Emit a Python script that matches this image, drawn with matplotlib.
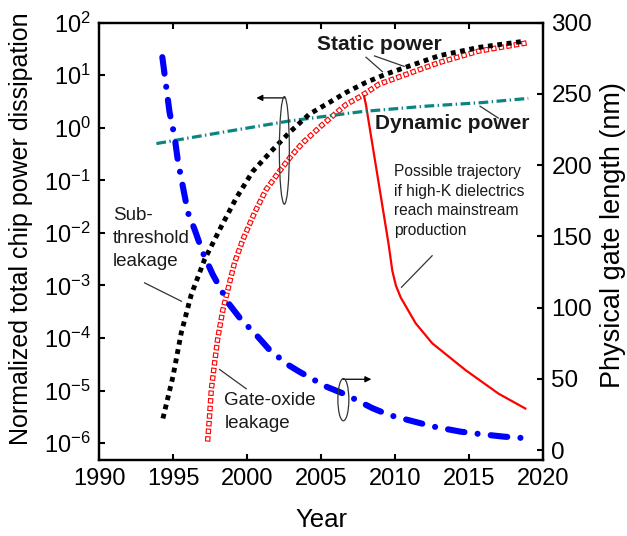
import numpy as np
import matplotlib
matplotlib.use("Agg")
import matplotlib.pyplot as plt
from matplotlib.patches import Ellipse
from matplotlib.ticker import NullLocator

plt.rcParams['font.family'] = ['Liberation Sans', 'DejaVu Sans']
plt.rcParams['lines.scale_dashes'] = False

# sub-threshold leakage (static power), log10 of normalized power
sub_years = [1994.3, 1994.98, 1995.54, 1996.22, 1997.11, 1998.24, 1999.25, 2000.37,
             2001.61, 2002.85, 2004.2, 2005.54, 2006.67, 2008.0, 2009.37, 2010.7,
             2012.96, 2015.66, 2018.8]
sub_log = [-5.53, -4.73, -3.90, -3.17, -2.51, -1.88, -1.34, -0.83,
           -0.45, -0.09, 0.26, 0.48, 0.67, 0.86, 1.02, 1.15,
           1.37, 1.53, 1.65]

# gate-oxide leakage
gox_years = [1997.32, 1997.45, 1997.57, 1997.79, 1998.01, 1998.35, 1998.68, 1999.14,
             1999.7, 2000.49, 2001.27, 2002.17, 2002.96, 2003.74, 2005.09, 2006.67,
             2007.68, 2008.92, 2010.49, 2012.96, 2015.66, 2019.0]
gox_log = [-5.97, -5.5, -4.99, -4.48, -4.0, -3.47, -3.09, -2.57,
           -2.13, -1.62, -1.18, -0.83, -0.54, -0.29, 0.06, 0.44,
           0.6, 0.83, 0.99, 1.24, 1.46, 1.62]

# high-K trajectory
hik_years = [2007.9, 2008.02, 2009.55, 2009.81, 2010.05, 2010.38, 2011.39, 2012.51,
             2014.76, 2017.0, 2018.8]
hik_log = [0.6, 0.45, -2.2, -2.72, -3.0, -3.23, -3.72, -4.1, -4.61, -5.06, -5.34]

# dynamic power
dyn_years = [1993.86, 1998.0, 2002.85, 2007.8, 2012.0, 2015.9, 2019.0]
dyn_log = [-0.30, -0.10, 0.13, 0.31, 0.41, 0.48, 0.56]

# physical gate length (nm), right axis
gate_years = [1994.26, 1994.75, 1995.09, 1995.31, 1995.99, 1996.44, 1997.0, 1997.67,
              1998.35, 1998.8, 1999.59, 2000.49, 2001.5, 2002.73, 2003.52, 2005.32,
              2006.67, 2008.46, 2009.59, 2011.27, 2012.62, 2014.42, 2015.66, 2017.34, 2018.8]
gate_nm = [275.8, 237, 220, 203, 166.7, 154.9, 138.5, 123.2,
           110.3, 102.1, 91.5, 82.2, 70.4, 60, 55, 44.6,
           38.9, 29.4, 24.6, 20, 16.4, 12.9, 11.3, 9.4, 8.3]

x_ticks = [1990, 1995, 2000, 2005, 2010, 2015, 2020]
right_ticks = [0, 50, 100, 150, 200, 250, 300]

fig = plt.figure(figsize=(6.27, 5.36), dpi=100)
ax = fig.add_axes([0.1584, 0.1418, 0.7077, 0.8159])
ax2 = ax.twinx()

teal = '#0b8582'

# gate-oxide: hollow red squares from a dashed red line + white dashed core
gx = np.array(gox_years)
gy = 10.0 ** np.array(gox_log)
ax.plot(gx, gy, color='red', lw=3.9, ls=(0, (3.9, 1.6)),
        dash_capstyle='butt', zorder=2)
ax.plot(gx, gy, color='white', lw=2.3, ls=(4.7, (2.3, 3.2)),
        dash_capstyle='butt', zorder=2.1)

ax.plot(hik_years, 10.0 ** np.array(hik_log), color='red', lw=1.6, zorder=2.2)

ax.plot(dyn_years, 10.0 ** np.array(dyn_log), color=teal, lw=2.3,
        ls=(0, (7, 2.5, 1, 2.5)), dash_capstyle='butt', zorder=3)

# sub-threshold: filled black squares
ax.plot(sub_years, 10.0 ** np.array(sub_log), color='black', lw=3.5,
        ls=(0, (3.5, 3.3)), dash_capstyle='butt', zorder=4)

ax2.plot(gate_years, gate_nm, color='blue', lw=4.4,
         ls=(0, (12, 9.5, 0.01, 9.5)), dash_capstyle='round', zorder=3)

ax.set_xlim(1990, 2020)
ax.set_yscale('log')
ax.set_ylim(10 ** -6.32, 100)
ax.set_yticks([10.0 ** k for k in range(-6, 3)])
ax.yaxis.set_minor_locator(NullLocator())
ax.set_xticks(x_ticks)
ax2.set_ylim(-7, 300)
ax2.set_yticks(right_ticks)

for a in (ax, ax2):
    for s in a.spines.values():
        s.set_linewidth(1.6)
ax.tick_params(axis='both', which='both', direction='in', length=4.5, width=1.5,
               labelsize=17, top=True, right=False)
ax.tick_params(axis='x', pad=6)
ax.tick_params(axis='y', pad=6)
ax2.tick_params(axis='y', direction='in', length=4.5, width=1.5, labelsize=17.5,
                pad=6, left=False)

ax.set_xlabel('Year', fontsize=18.5, labelpad=13)
ax.set_ylabel('Normalized total chip power dissipation', fontsize=18)
ax.yaxis.set_label_coords(-0.15, 0.53)
ax2.set_ylabel('Physical gate length (nm)', fontsize=19.5)
ax2.yaxis.set_label_coords(1.128, 0.515)

T = ax2.transAxes
txt = '#1a1a1a'
ax2.text(0.631, 0.949, 'Static power', transform=T, fontsize=15, fontweight='bold',
         ha='center', va='center', color=txt)
ax2.text(0.795, 0.770, 'Dynamic power', transform=T, fontsize=15, fontweight='bold',
         ha='center', va='center', color=txt)
ax2.text(0.665, 0.676, 'Possible trajectory\nif high-K dielectrics\nreach mainstream\nproduction',
         transform=T, fontsize=11.2, ha='left', va='top', color=txt, linespacing=1.38)
ax2.text(0.030, 0.578, 'Sub-\nthreshold\nleakage', transform=T, fontsize=13.5,
         ha='left', va='top', color=txt, linespacing=1.45)
ax2.text(0.282, 0.155, 'Gate-oxide\nleakage', transform=T, fontsize=13.5,
         ha='left', va='top', color=txt, linespacing=1.45)

# leader lines
leaders = [((0.601, 0.921), (0.638, 0.888)),
           ((0.620, 0.924), (0.687, 0.900)),
           ((0.858, 0.809), (0.899, 0.782)),
           ((0.750, 0.467), (0.681, 0.395)),
           ((0.102, 0.405), (0.185, 0.363)),
           ((0.271, 0.207), (0.331, 0.163))]
for p, q in leaders:
    ax2.plot([p[0], q[0]], [p[1], q[1]], transform=T, color='#333333', lw=0.9, zorder=5)

# axis indicators
ax2.add_patch(Ellipse((0.417, 0.708), 0.0225, 0.246, transform=T, fill=False,
                      ec='#333333', lw=0.9, zorder=5))
ax2.annotate('', xy=(0.354, 0.828), xytext=(0.418, 0.828), xycoords=T, textcoords=T,
             arrowprops=dict(arrowstyle='-|>', lw=0.9, color='black', mutation_scale=9,
                             shrinkA=0, shrinkB=0))
ax2.add_patch(Ellipse((0.550, 0.138), 0.0247, 0.0966, transform=T, fill=False,
                      ec='#333333', lw=0.9, zorder=5))
ax2.annotate('', xy=(0.613, 0.1846), xytext=(0.549, 0.1846), xycoords=T, textcoords=T,
             arrowprops=dict(arrowstyle='-|>', lw=0.9, color='black', mutation_scale=9,
                             shrinkA=0, shrinkB=0))

fig.savefig('out.png', dpi=100)
